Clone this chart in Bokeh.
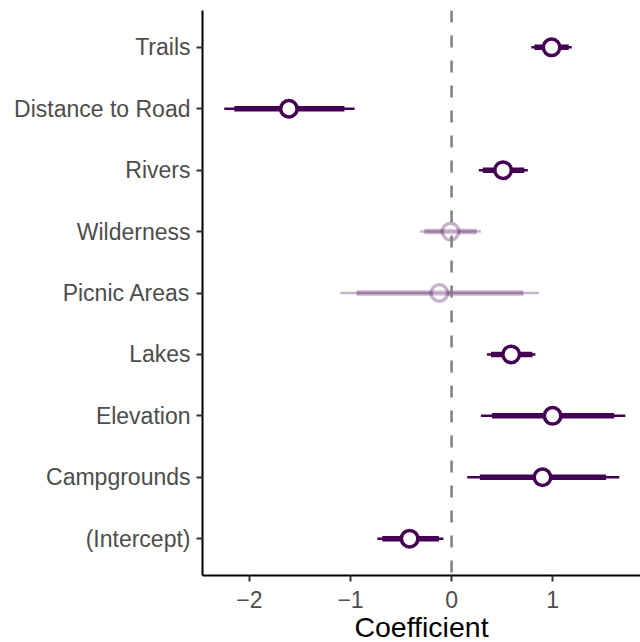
from bokeh.plotting import figure
from bokeh.models import ColumnDataSource, Range1d, FixedTicker, Span
from bokeh.embed import file_html
from bokeh.resources import INLINE

# Data (top to bottom as in the chart)
terms = ["Trails", "Distance to Road", "Rivers", "Wilderness", "Picnic Areas",
         "Lakes", "Elevation", "Campgrounds", "(Intercept)"]
estimate = [0.99, -1.61, 0.51, -0.01, -0.12, 0.59, 1.00, 0.90, -0.415]
outer_lo = [0.79, -2.25, 0.27, -0.31, -1.10, 0.35, 0.29, 0.155, -0.735]
outer_hi = [1.19, -0.96, 0.755, 0.29, 0.865, 0.83, 1.72, 1.66, -0.08]
inner_lo = [0.82, -2.15, 0.31, -0.27, -0.94, 0.39, 0.40, 0.28, -0.686]
inner_hi = [1.16, -1.06, 0.72, 0.25, 0.71, 0.80, 1.61, 1.53, -0.125]
significant = [True, True, True, False, False, True, True, True, True]
x_ticks = [-2, -1, 0, 1]
x_tick_labels = ["\u22122", "\u22121", "0", "1"]

n = len(terms)
ypos = [n - i for i in range(n)]
alpha = [1.0 if s else 0.3 for s in significant]

src = ColumnDataSource(dict(y=ypos, est=estimate, olo=outer_lo, ohi=outer_hi,
                            ilo=inner_lo, ihi=inner_hi, a=alpha))

PURPLE = "#440154"
FONT = "Liberation Sans"

p = figure(width=640, height=642, output_backend="svg", toolbar_location=None,
           x_range=Range1d(-2.465, 1.87), y_range=Range1d(0.4, n + 0.6),
           min_border_left=202, min_border_right=0, min_border_top=10,
           min_border_bottom=67)
p.frame_width = 438
p.frame_height = 565
p.outline_line_color = None
p.grid.visible = False
p.background_fill_color = "white"
p.border_fill_color = "white"

vline = Span(location=0, dimension="height", line_color="#7f7f7f",
             line_width=2.5, line_dash="12 13")
p.add_layout(vline)

p.segment(x0="olo", x1="ohi", y0="y", y1="y", source=src, line_color=PURPLE,
          line_width=2.5, line_alpha="a")
p.segment(x0="ilo", x1="ihi", y0="y", y1="y", source=src, line_color=PURPLE,
          line_width=5.5, line_alpha="a")
p.scatter(x="est", y="y", source=src, size=16.5, marker="circle",
          fill_color="white", fill_alpha="a", line_color=PURPLE,
          line_width=3.5, line_alpha="a")

for ax in (p.xaxis[0], p.yaxis[0]):
    ax.axis_line_color = "black"
    ax.axis_line_width = 2
    ax.major_tick_line_color = "#333333"
    ax.major_tick_line_width = 2
    ax.major_tick_out = 6
    ax.major_tick_in = 0
    ax.minor_tick_line_color = None
    ax.major_label_text_font = FONT
    ax.major_label_text_font_size = "23px"
    ax.major_label_text_color = "#4d4d4d"

p.xaxis.ticker = FixedTicker(ticks=x_ticks)
p.xaxis.major_label_overrides = {t: l for t, l in zip(x_ticks, x_tick_labels)}
p.xaxis.major_label_standoff = 9
p.xaxis.axis_label = "Coefficient"
p.xaxis.axis_label_text_font = FONT
p.xaxis.axis_label_text_font_size = "28.5px"
p.xaxis.axis_label_text_font_style = "normal"
p.xaxis.axis_label_text_color = "black"
p.xaxis.axis_label_standoff = 0

p.yaxis.ticker = FixedTicker(ticks=ypos)
p.yaxis.major_label_overrides = {y: t for y, t in zip(ypos, terms)}
p.yaxis.major_label_standoff = 6

open("out.html", "w").write(file_html(p, INLINE))
